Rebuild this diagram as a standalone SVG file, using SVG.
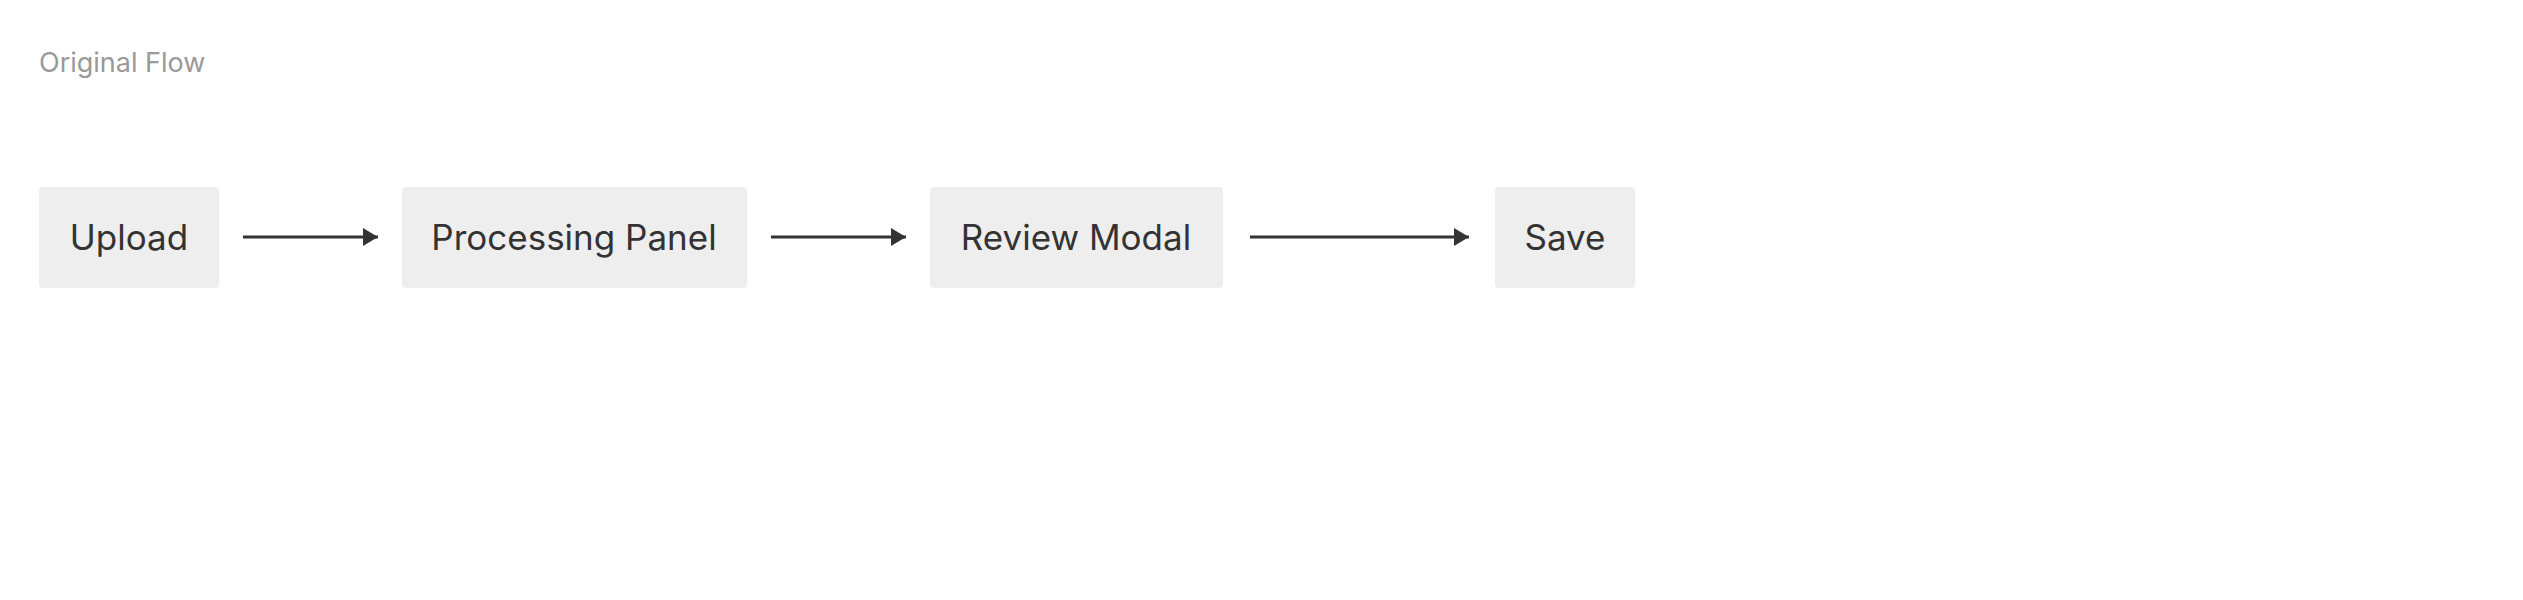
<svg xmlns="http://www.w3.org/2000/svg" width="2523" height="600" viewBox="0 0 2523 600">
<style>
.n{fill:#eeeeee}
.t{font-family:Inter,"Liberation Sans",sans-serif;font-size:35px;fill:#333;text-anchor:middle;dominant-baseline:central}
.c{stroke:#333;stroke-width:3;fill:none}
</style>
<defs><marker id="a" markerWidth="10" markerHeight="10" refX="9" refY="5" orient="auto" markerUnits="userSpaceOnUse"><path d="M0,-3 L16,5 L0,13 Z" fill="#333" transform="translate(-6,0)"/></marker>
<marker id="ah" viewBox="0 0 10 10" refX="10" refY="5" markerWidth="15" markerHeight="18" markerUnits="userSpaceOnUse" orient="auto" preserveAspectRatio="none"><path d="M0,0 L10,5 L0,10 Z" fill="#333"/></marker></defs>
<rect width="2523" height="600" fill="#fff"/>
<text x="39" y="72" font-family="Inter,'Liberation Sans',sans-serif" font-size="27" fill="#999">Original Flow</text>
<g id="upload"><rect class="n" x="39" y="187" width="180" height="101" rx="4"/><text class="t" x="129" y="237">Upload</text></g>
<g id="processing"><rect class="n" x="402" y="187" width="345" height="101" rx="4"/><text class="t" x="574" y="237">Processing Panel</text></g>
<g id="review"><rect class="n" x="930" y="187" width="293" height="101" rx="4"/><text class="t" x="1076" y="237">Review Modal</text></g>
<g id="save"><rect class="n" x="1495" y="187" width="140" height="101" rx="4"/><text class="t" x="1565" y="237">Save</text></g>
<g id="connectors">
<line class="c" x1="243" y1="237" x2="378" y2="237" marker-end="url(#ah)"/>
<line class="c" x1="771" y1="237" x2="906" y2="237" marker-end="url(#ah)"/>
<line class="c" x1="1250" y1="237" x2="1469" y2="237" marker-end="url(#ah)"/>
</g>
</svg>
